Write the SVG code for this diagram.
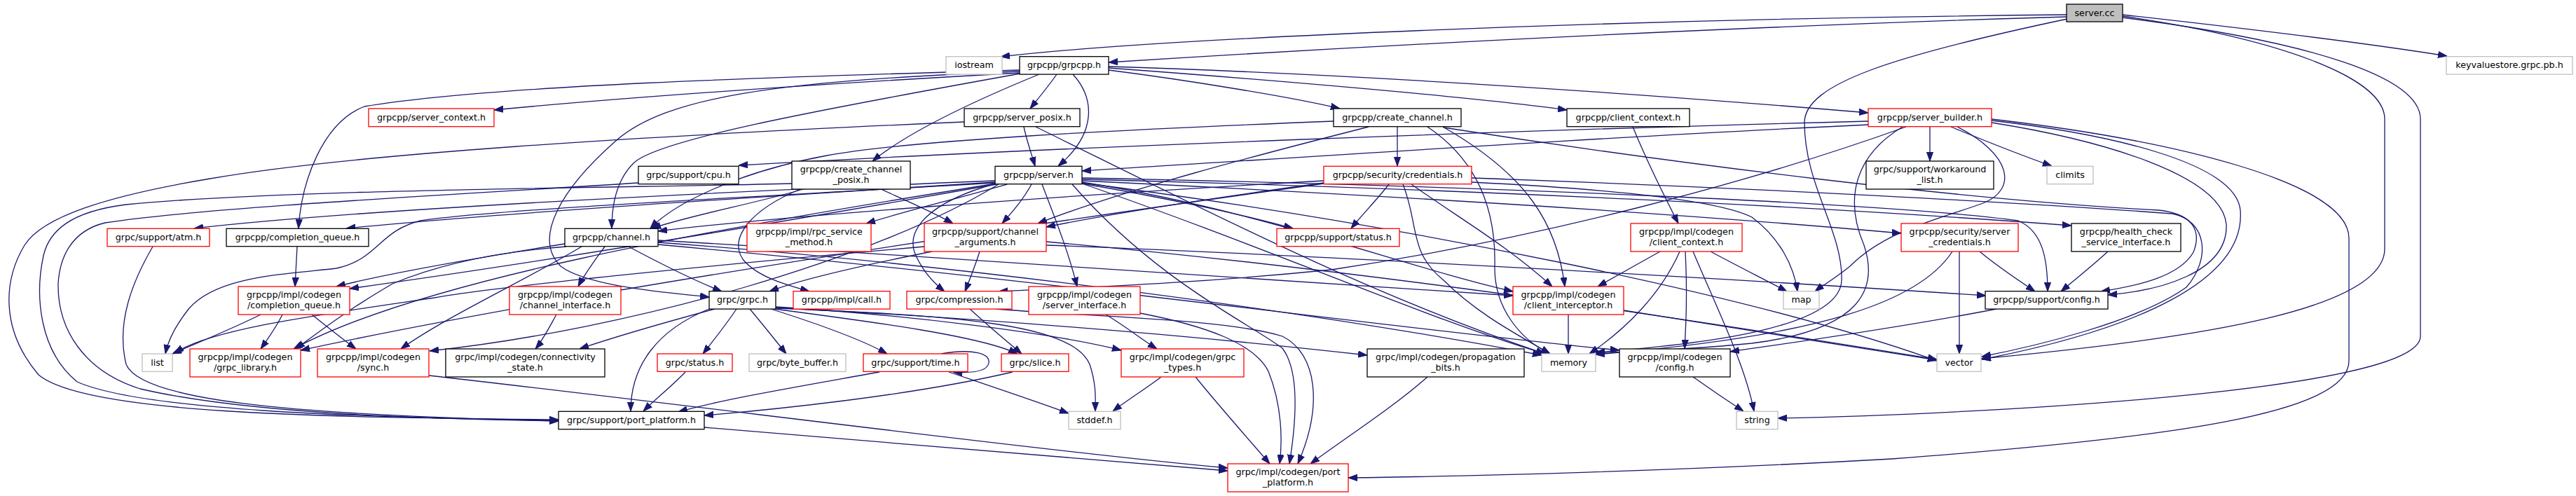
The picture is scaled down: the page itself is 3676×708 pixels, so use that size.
<svg xmlns="http://www.w3.org/2000/svg" width="3676" height="708" viewBox="0 0 3676 708">
<style>
.b{fill:#fff;stroke:#000;stroke-width:1.3}
.r{fill:#fff;stroke:#f00;stroke-width:1.3}
.g{fill:#fff;stroke:#bfbfbf;stroke-width:1.3}
.root{fill:#bfbfbf;stroke:#000;stroke-width:1.3}
text{font-family:"DejaVu Sans","Liberation Sans",sans-serif;font-size:12.7px;text-anchor:middle;fill:#000}
#edges path{fill:none;stroke:#191970;stroke-width:1.3;marker-end:url(#a)}
</style>
<defs>
<marker id="a" markerUnits="userSpaceOnUse" markerWidth="13" markerHeight="10" refX="13" refY="5" orient="auto" viewBox="0 0 13 10">
<path d="M0,0.4 L13,5 L0,9.6 z" fill="#191970" stroke="#191970" stroke-width="1"/>
</marker>
</defs>
<rect x="0" y="0" width="3676" height="708" fill="#fff"/>
<g id="edges">
<path id="e1" d="M2949,21 C2300,27 1650,55 1428,81"/>
<path id="e2" d="M2949,24 C2400,40 1850,72 1582,89"/>
<path id="e3" d="M3029,21 C3200,40 3380,62 3492,80"/>
<path id="e4" d="M2950,27 C2700,80 2575,120 2575,175 C2575,265 2630,330 2628,400 C2626,470 2420,492 2277,503"/>
<path id="e5" d="M3029,25 C3300,60 3454,110 3454,170 L3454,480 C3454,560 2800,592 2537,597"/>
<path id="e6" d="M3029,23 C3250,55 3403,110 3403,170 L3403,355 C3403,440 3150,482 2827,512"/>
<path id="e7" d="M1456,104 C1200,118 900,138 705,157"/>
<path id="e8" d="M1508,106 C1497,122 1482,140 1470,155"/>
<path id="e9" d="M1531,106 C1562,140 1566,190 1510,237"/>
<path id="e10" d="M1483,106 C1400,140 1300,185 1245,230"/>
<path id="e11" d="M1456,105 C1150,160 940,200 905,232 C880,256 873,290 873,326"/>
<path id="e12" d="M1455,100 C1100,110 700,122 520,152 C460,175 430,260 426,326"/>
<path id="e13" d="M1455,102 C1100,115 950,140 880,200 C800,270 760,340 800,380 C840,410 960,418 1012,424"/>
<path id="e14" d="M1582,100 C1700,115 1850,140 1912,155"/>
<path id="e15" d="M1582,97 C1800,113 2100,138 2236,157"/>
<path id="e16" d="M1582,95 C2000,108 2450,143 2666,161"/>
<path id="e17" d="M1461,181 C1465,200 1472,220 1477,237"/>
<path id="e18" d="M1376,174 C900,195 500,220 300,255 C150,280 60,310 35,350 C5,400 0,470 55,535 C120,590 450,596 797,599"/>
<path id="e19" d="M1478,181 C1700,290 1950,420 2205,505"/>
<path id="e20" d="M1994,181 C1994,200 1994,220 1994,237"/>
<path id="e21" d="M1903,173 C1600,185 1300,200 1180,222 C1050,246 960,292 928,326"/>
<path id="e22" d="M1953,181 C1800,220 1600,272 1481,319"/>
<path id="e23" d="M2037,181 C2110,230 2135,300 2133,380 C2132,440 2170,485 2212,505"/>
<path id="e24" d="M2059,181 C2180,250 2222,320 2233,409"/>
<path id="e25" d="M2060,182 C2400,235 2800,285 3080,300 C3130,305 3142,330 3130,360 C3110,395 3050,408 2998,416"/>
<path id="e26" d="M2330,181 C2350,230 2375,280 2395,319"/>
<path id="e27" d="M2666,173 C2200,185 1500,210 1054,236"/>
<path id="e28" d="M2667,178 C2300,195 1900,222 1544,244"/>
<path id="e29" d="M2754,181 C2754,200 2754,215 2754,230"/>
<path id="e30" d="M2784,181 C2830,200 2880,220 2928,237"/>
<path id="e31" d="M2793,181 C2870,220 2880,270 2830,290 C2760,315 2690,330 2640,380 C2615,400 2600,408 2590,416"/>
<path id="e32" d="M2715,181 C2650,220 2630,280 2660,350 C2680,410 2660,470 2500,490 C2400,500 2320,502 2277,504"/>
<path id="e33" d="M2720,181 C2500,260 2200,340 1900,385 C1700,405 1550,410 1425,416"/>
<path id="e34" d="M2842,172 C3000,190 3190,230 3197,300 C3205,400 3050,470 2828,513"/>
<path id="e35" d="M2842,175 C3000,200 3170,250 3177,320 C3180,390 3080,415 3008,421"/>
<path id="e36" d="M2842,170 C3100,200 3352,260 3352,340 L3352,515 C3352,590 3100,625 2700,655 C2400,672 2100,680 1924,682"/>
<path id="e37" d="M911,261 C700,275 300,295 150,318 C100,330 85,370 83,405 C82,470 120,530 200,555 C350,590 600,598 797,601"/>
<path id="e38" d="M1130,262 C900,268 400,270 180,292 C100,302 70,330 62,365 C50,420 55,500 110,545 C200,585 500,596 797,600"/>
<path id="e39" d="M218,352 C190,400 165,460 180,520 C200,570 400,592 797,601"/>
<path id="e40" d="M1146,270 C1080,290 990,306 930,326"/>
<path id="e41" d="M1257,270 C1290,285 1330,302 1360,319"/>
<path id="e42" d="M1142,270 C1070,300 1040,340 1060,370 C1080,395 1120,406 1155,416"/>
<path id="e43" d="M1420,258 C1000,275 500,300 277,326"/>
<path id="e44" d="M1420,260 C1100,280 700,305 494,326"/>
<path id="e45" d="M1420,261 C1000,285 700,300 600,315 C540,330 540,370 480,383 C400,392 310,395 270,440 C250,465 240,485 236,505"/>
<path id="e46" d="M1422,263 C1100,320 800,370 499,412"/>
<path id="e47" d="M1437,263 C1360,285 1290,302 1236,319"/>
<path id="e48" d="M1472,263 C1460,285 1445,302 1430,319"/>
<path id="e49" d="M1544,262 C1650,280 1770,305 1845,326"/>
<path id="e50" d="M1544,258 C2000,280 2400,305 2713,333"/>
<path id="e51" d="M1544,256 C2100,270 2600,295 2956,322"/>
<path id="e52" d="M1544,254 C2100,265 2700,290 2880,315 C2915,330 2922,370 2922,416"/>
<path id="e53" d="M1544,261 C2000,320 2500,420 2764,515"/>
<path id="e54" d="M1421,262 C1000,330 600,400 419,498"/>
<path id="e55" d="M1425,263 C1250,370 900,470 613,501"/>
<path id="e56" d="M1421,262 C1320,290 1295,330 1305,360 C1315,385 1330,402 1348,416"/>
<path id="e57" d="M1487,263 C1505,310 1525,360 1537,409"/>
<path id="e58" d="M1544,260 C1800,300 2000,380 2159,416"/>
<path id="e59" d="M1544,262 C1800,350 2050,460 2205,505"/>
<path id="e60" d="M1530,263 C1650,400 1780,460 1830,497 C1855,530 1850,600 1840,662"/>
<path id="e61" d="M806,348 C700,365 560,388 480,409"/>
<path id="e62" d="M863,352 C850,370 835,390 825,409"/>
<path id="e63" d="M897,352 C940,375 990,400 1030,416"/>
<path id="e64" d="M808,352 C700,360 620,380 560,405 C500,440 460,470 422,498"/>
<path id="e65" d="M830,352 C750,400 640,450 572,498"/>
<path id="e66" d="M939,346 C1400,380 1900,450 2200,507"/>
<path id="e67" d="M939,343 C1400,370 1900,405 2159,422"/>
<path id="e68" d="M939,349 C1500,400 2000,470 2311,500"/>
<path id="e69" d="M372,449 C330,470 280,490 246,505"/>
<path id="e70" d="M403,449 C395,465 385,480 372,498"/>
<path id="e71" d="M445,449 C465,465 490,485 508,498"/>
<path id="e72" d="M794,449 C785,465 775,485 764,498"/>
<path id="e73" d="M1020,441 C950,460 880,480 827,498"/>
<path id="e74" d="M1012,441 C940,470 900,520 900,587"/>
<path id="e75" d="M1051,441 C1035,465 1015,490 1003,505"/>
<path id="e76" d="M1070,441 C1090,465 1110,490 1122,505"/>
<path id="e77" d="M1100,441 C1160,460 1230,485 1266,505"/>
<path id="e78" d="M1105,441 C1250,460 1400,480 1452,505"/>
<path id="e79" d="M1107,438 C1300,450 1500,475 1600,500"/>
<path id="e80" d="M1107,440 C1350,450 1530,460 1555,520 C1565,550 1563,570 1563,587"/>
<path id="e81" d="M1107,439 C1500,460 1800,490 1951,507"/>
<path id="e82" d="M1384,441 C1410,465 1440,490 1458,505"/>
<path id="e83" d="M1421,441 C1550,452 1750,455 1830,480 C1880,505 1888,580 1852,662"/>
<path id="e84" d="M1578,449 C1605,465 1630,485 1651,498"/>
<path id="e85" d="M1627,447 C1720,465 1790,490 1810,530 C1830,580 1830,630 1826,662"/>
<path id="e86" d="M1657,538 C1635,555 1610,570 1588,587"/>
<path id="e87" d="M1706,538 C1740,580 1780,625 1812,662"/>
<path id="e88" d="M1343,505 C1390,497 1413,505 1411,518 C1409,530 1390,533 1360,531"/>
<path id="e89" d="M1354,531 C1410,550 1470,570 1525,590"/>
<path id="e90" d="M1255,531 C1150,550 1030,570 968,588"/>
<path id="e91" d="M1445,531 C1300,565 1100,585 1005,593"/>
<path id="e92" d="M978,531 C960,550 935,570 918,587"/>
<path id="e93" d="M1005,610 C1300,635 1600,660 1752,672"/>
<path id="e94" d="M612,536 C1000,580 1500,645 1752,668"/>
<path id="e95" d="M2037,538 C1990,580 1920,625 1870,662"/>
<path id="e96" d="M424,352 C423,370 422,390 421,409"/>
<path id="e97" d="M1398,359 C1392,378 1385,396 1377,416"/>
<path id="e98" d="M1330,359 C1250,375 1150,396 1098,416"/>
<path id="e99" d="M1319,352 C1000,380 700,410 620,425 C450,450 300,470 249,504"/>
<path id="e100" d="M1493,350 C1900,365 2500,400 2834,422"/>
<path id="e101" d="M1493,345 C2000,390 2500,470 2764,513"/>
<path id="e102" d="M1889,258 C1500,280 1100,310 939,330"/>
<path id="e103" d="M1889,261 C1750,280 1600,302 1493,324"/>
<path id="e104" d="M1982,263 C1965,285 1945,305 1928,326"/>
<path id="e105" d="M2014,263 C2080,310 2150,350 2215,409"/>
<path id="e106" d="M2100,260 C2300,270 2450,285 2500,310 C2540,340 2560,380 2565,416"/>
<path id="e107" d="M2002,263 C2025,320 2010,360 2060,400 C2110,450 2170,480 2212,505"/>
<path id="e108" d="M1889,262 C1400,330 800,420 429,500"/>
<path id="e109" d="M2100,254 C2500,268 2900,290 3100,305 C3150,315 3155,370 3120,410 C3050,460 2900,495 2828,509"/>
<path id="e110" d="M2441,359 C2480,380 2520,400 2550,416"/>
<path id="e111" d="M2369,359 C2340,375 2305,395 2280,409"/>
<path id="e112" d="M2397,359 C2370,420 2320,470 2268,505"/>
<path id="e113" d="M2405,359 C2408,420 2406,460 2404,498"/>
<path id="e114" d="M2416,359 C2450,440 2490,520 2503,587"/>
<path id="e115" d="M2238,449 C2238,470 2238,490 2238,505"/>
<path id="e116" d="M2317,443 C2450,465 2650,495 2764,514"/>
<path id="e117" d="M2849,441 C2700,470 2550,490 2469,502"/>
<path id="e118" d="M2786,359 C2740,430 2600,480 2277,506"/>
<path id="e119" d="M2796,359 C2796,420 2796,470 2796,505"/>
<path id="e120" d="M2825,359 C2850,380 2880,400 2904,416"/>
<path id="e121" d="M3008,359 C2985,380 2960,400 2941,416"/>
<path id="e122" d="M2416,538 C2440,555 2465,572 2488,587"/>
</g>
<g id="server_cc"><rect class="root" x="2949" y="6" width="80" height="25"/><text x="2989" y="22.5">server.cc</text></g>
<g id="iostream"><rect class="g" x="1350" y="80.7" width="80" height="25.4"/><text x="1390" y="97.2">iostream</text></g>
<g id="grpcpp_h"><rect class="b" x="1455" y="80.7" width="127" height="25.4"/><text x="1518.5" y="97.2">grpcpp/grpcpp.h</text></g>
<g id="kvs"><rect class="g" x="3491" y="80.7" width="180" height="25.4"/><text x="3581" y="97.2">keyvaluestore.grpc.pb.h</text></g>
<g id="server_context"><rect class="r" x="526" y="155" width="179" height="25.7"/><text x="615.5" y="171.5">grpcpp/server_context.h</text></g>
<g id="server_posix"><rect class="b" x="1376" y="155" width="165" height="25.7"/><text x="1458.5" y="171.5">grpcpp/server_posix.h</text></g>
<g id="create_channel"><rect class="b" x="1903" y="155" width="182" height="25.7"/><text x="1994" y="171.5">grpcpp/create_channel.h</text></g>
<g id="client_context"><rect class="b" x="2236" y="155" width="175" height="25.7"/><text x="2323.5" y="171.5">grpcpp/client_context.h</text></g>
<g id="server_builder"><rect class="r" x="2666" y="155" width="176" height="25.7"/><text x="2754" y="171.5">grpcpp/server_builder.h</text></g>
<g id="cpu"><rect class="b" x="911" y="237.3" width="143" height="25.4"/><text x="982.5" y="253.8">grpc/support/cpu.h</text></g>
<g id="create_channel_posix"><rect class="b" x="1130" y="230" width="169" height="40"/><text x="1214.5" y="246">grpcpp/create_channel</text><text x="1214.5" y="261">_posix.h</text></g>
<g id="server_h"><rect class="b" x="1420" y="237.3" width="124" height="25.4"/><text x="1482" y="253.8">grpcpp/server.h</text></g>
<g id="credentials"><rect class="r" x="1889" y="237.3" width="211" height="25.4"/><text x="1994.5" y="253.8">grpcpp/security/credentials.h</text></g>
<g id="workaround_list"><rect class="b" x="2663" y="230" width="182" height="40"/><text x="2754" y="246">grpc/support/workaround</text><text x="2754" y="261">_list.h</text></g>
<g id="climits"><rect class="g" x="2921" y="237.3" width="66" height="25.4"/><text x="2954" y="253.8">climits</text></g>
<g id="atm"><rect class="r" x="153" y="326.3" width="146" height="25.4"/><text x="226" y="342.8">grpc/support/atm.h</text></g>
<g id="completion_queue"><rect class="b" x="323" y="326.3" width="203" height="25.4"/><text x="424.5" y="342.8">grpcpp/completion_queue.h</text></g>
<g id="channel"><rect class="b" x="806" y="326.3" width="133" height="25.4"/><text x="872.5" y="342.8">grpcpp/channel.h</text></g>
<g id="rpc_service_method"><rect class="r" x="1066" y="319" width="177" height="40"/><text x="1154.5" y="335">grpcpp/impl/rpc_service</text><text x="1154.5" y="350">_method.h</text></g>
<g id="channel_arguments"><rect class="r" x="1319" y="319" width="174" height="40"/><text x="1406" y="335">grpcpp/support/channel</text><text x="1406" y="350">_arguments.h</text></g>
<g id="support_status"><rect class="r" x="1822" y="326.3" width="175" height="25.4"/><text x="1909.5" y="342.8">grpcpp/support/status.h</text></g>
<g id="codegen_client_context"><rect class="r" x="2327" y="319" width="159" height="40"/><text x="2406.5" y="335">grpcpp/impl/codegen</text><text x="2406.5" y="350">/client_context.h</text></g>
<g id="server_credentials"><rect class="r" x="2713" y="319" width="167" height="40"/><text x="2796.5" y="335">grpcpp/security/server</text><text x="2796.5" y="350">_credentials.h</text></g>
<g id="health_check"><rect class="b" x="2956" y="319" width="156" height="40"/><text x="3034" y="335">grpcpp/health_check</text><text x="3034" y="350">_service_interface.h</text></g>
<g id="codegen_cq"><rect class="r" x="340" y="409" width="159" height="40"/><text x="419.5" y="425">grpcpp/impl/codegen</text><text x="419.5" y="440">/completion_queue.h</text></g>
<g id="channel_interface"><rect class="r" x="727" y="409" width="159" height="40"/><text x="806.5" y="425">grpcpp/impl/codegen</text><text x="806.5" y="440">/channel_interface.h</text></g>
<g id="grpc_h"><rect class="b" x="1012" y="415.7" width="95" height="25.4"/><text x="1059.5" y="432.2">grpc/grpc.h</text></g>
<g id="call"><rect class="r" x="1132" y="415.7" width="138" height="25.4"/><text x="1201" y="432.2">grpcpp/impl/call.h</text></g>
<g id="compression"><rect class="r" x="1294" y="415.7" width="150" height="25.4"/><text x="1369" y="432.2">grpc/compression.h</text></g>
<g id="server_interface"><rect class="r" x="1468" y="409" width="159" height="40"/><text x="1547.5" y="425">grpcpp/impl/codegen</text><text x="1547.5" y="440">/server_interface.h</text></g>
<g id="client_interceptor"><rect class="r" x="2159" y="409" width="158" height="40"/><text x="2238" y="425">grpcpp/impl/codegen</text><text x="2238" y="440">/client_interceptor.h</text></g>
<g id="map"><rect class="g" x="2545" y="415.7" width="51" height="25.4"/><text x="2570.5" y="432.2">map</text></g>
<g id="support_config"><rect class="b" x="2833" y="415.7" width="175" height="25.4"/><text x="2920.5" y="432.2">grpcpp/support/config.h</text></g>
<g id="list"><rect class="g" x="203" y="505" width="43" height="25.4"/><text x="224.5" y="521.5">list</text></g>
<g id="grpc_library"><rect class="r" x="271" y="498" width="158" height="40"/><text x="350" y="514">grpcpp/impl/codegen</text><text x="350" y="529">/grpc_library.h</text></g>
<g id="sync"><rect class="r" x="453" y="498" width="159" height="40"/><text x="532.5" y="514">grpcpp/impl/codegen</text><text x="532.5" y="529">/sync.h</text></g>
<g id="connectivity_state"><rect class="b" x="636" y="498" width="227" height="40"/><text x="749.5" y="514">grpc/impl/codegen/connectivity</text><text x="749.5" y="529">_state.h</text></g>
<g id="status_h"><rect class="r" x="938" y="505" width="107" height="25.4"/><text x="991.5" y="521.5">grpc/status.h</text></g>
<g id="byte_buffer"><rect class="g" x="1069" y="505" width="138" height="25.4"/><text x="1138" y="521.5">grpc/byte_buffer.h</text></g>
<g id="time_h"><rect class="r" x="1232" y="505" width="149" height="25.4"/><text x="1306.5" y="521.5">grpc/support/time.h</text></g>
<g id="slice"><rect class="r" x="1429" y="505" width="96" height="25.4"/><text x="1477" y="521.5">grpc/slice.h</text></g>
<g id="grpc_types"><rect class="r" x="1600" y="498" width="175" height="40"/><text x="1687.5" y="514">grpc/impl/codegen/grpc</text><text x="1687.5" y="529">_types.h</text></g>
<g id="propagation_bits"><rect class="b" x="1951" y="498" width="224" height="40"/><text x="2063" y="514">grpc/impl/codegen/propagation</text><text x="2063" y="529">_bits.h</text></g>
<g id="memory"><rect class="g" x="2200" y="505" width="77" height="25.4"/><text x="2238.5" y="521.5">memory</text></g>
<g id="codegen_config"><rect class="b" x="2311" y="498" width="158" height="40"/><text x="2390" y="514">grpcpp/impl/codegen</text><text x="2390" y="529">/config.h</text></g>
<g id="vector"><rect class="g" x="2764" y="505" width="63" height="25.4"/><text x="2795.5" y="521.5">vector</text></g>
<g id="port_platform"><rect class="b" x="797" y="587.3" width="208" height="25.4"/><text x="901" y="603.8">grpc/support/port_platform.h</text></g>
<g id="stddef"><rect class="g" x="1525" y="587.3" width="74" height="25.4"/><text x="1562" y="603.8">stddef.h</text></g>
<g id="string"><rect class="g" x="2478" y="587.3" width="59" height="25.4"/><text x="2507.5" y="603.8">string</text></g>
<g id="codegen_port_platform"><rect class="r" x="1752" y="662" width="172" height="40"/><text x="1838" y="678">grpc/impl/codegen/port</text><text x="1838" y="693">_platform.h</text></g>
</svg>
